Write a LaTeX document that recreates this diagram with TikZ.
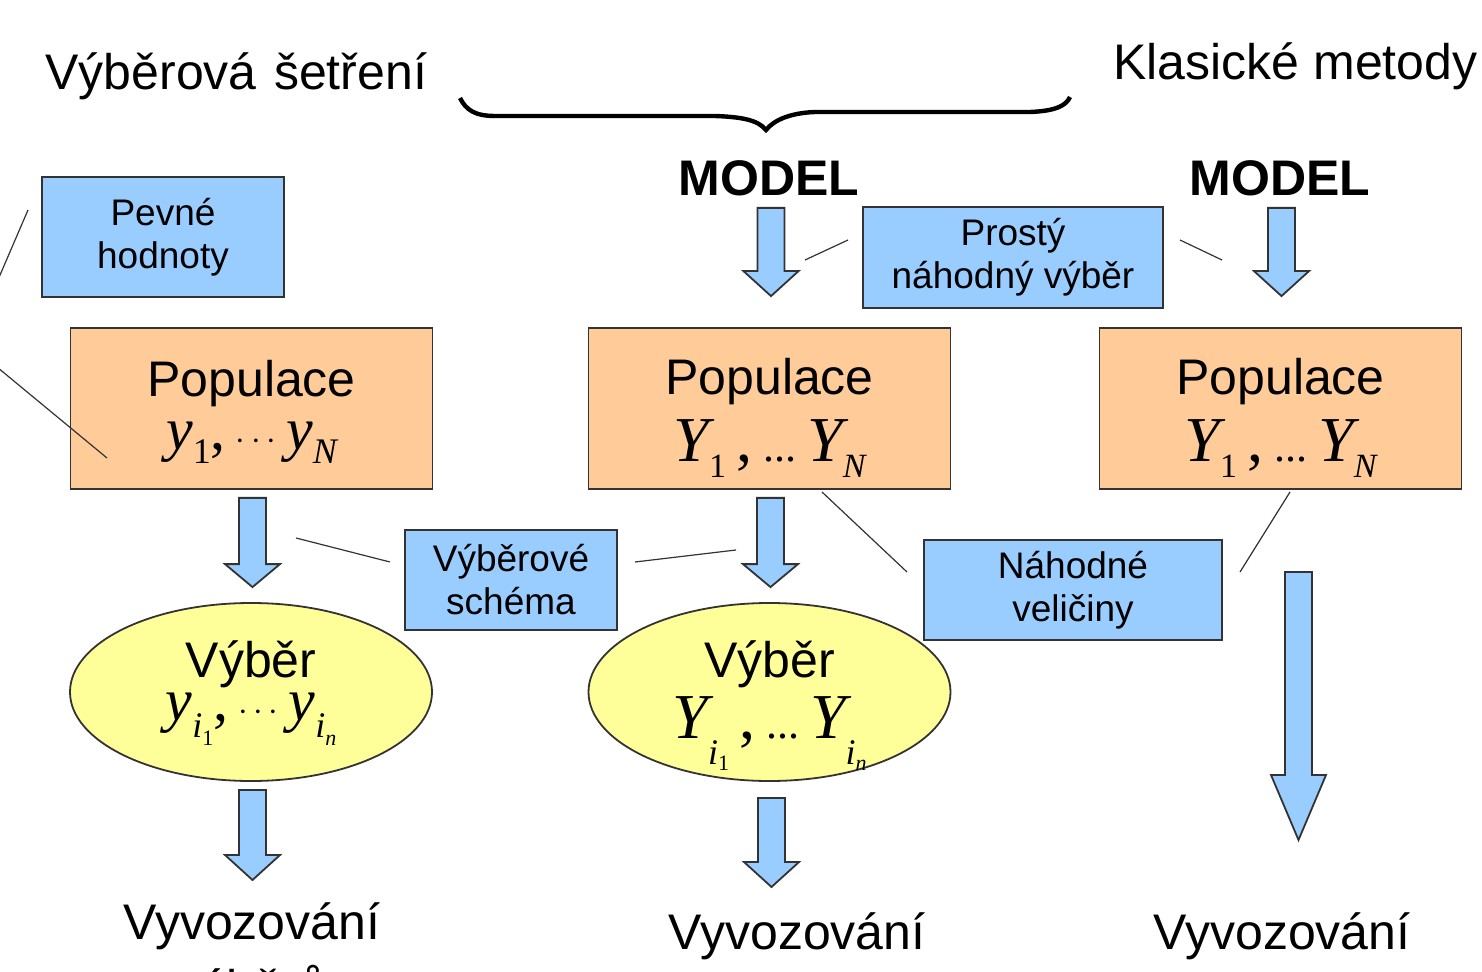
\documentclass[tikz,border=0pt]{standalone}
\usepackage{fontspec}
\setmainfont{Liberation Sans}
\newfontfamily\tnr{Liberation Serif}
\usetikzlibrary{positioning}
\usetikzlibrary{shapes.geometric}
\usetikzlibrary{calc}

\definecolor{boxblue}{HTML}{99CCFF}
\definecolor{boxorange}{HTML}{FFCC99}
\definecolor{boxyellow}{HTML}{FFFF99}
\definecolor{edgegray}{HTML}{333333}

% lowered index: drop, size, content
\newcommand{\lowr}[3]{\raisebox{-#1pt}{\fontsize{#2}{#2}\selectfont #3}}
% block arrow from a start point down to a tip, with head length
\newcommand{\flow}[3]{%
  \draw[arrowbody] let \p1=(#1), \p2=(#2) in
    (\x1-6.75pt,\y1) -- (\x1+6.75pt,\y1) -- (\x1+6.75pt,\y2+#3) -- (\x1+13.75pt,\y2+#3)
    -- (\x1,\y2) -- (\x1-13.75pt,\y2+#3) -- (\x1-6.75pt,\y2+#3) -- cycle;}

\begin{document}
\begin{tikzpicture}
		[x=0.5pt, y=-0.5pt,
		note/.style={rectangle, draw=edgegray, fill=boxblue, line width=0.9pt, inner sep=0pt, align=center, font=\fontsize{18.5}{21.5}\selectfont},
		popbox/.style={rectangle, draw=edgegray, fill=boxorange, line width=0.9pt, minimum width=181pt, minimum height=80.5pt, inner sep=0pt, align=center, font=\fontsize{25}{29}\selectfont},
		sample/.style={ellipse, draw=edgegray, fill=boxyellow, line width=0.9pt, minimum width=181pt, minimum height=89pt, inner sep=0pt, align=center, font=\fontsize{25}{29}\selectfont},
		arrowbody/.style={draw=edgegray, fill=boxblue, line width=0.9pt},
		callout/.style={draw=black!80, line width=0.6pt},
		title/.style={inner sep=0pt, font=\fontsize{25}{29}\selectfont},
		model/.style={inner sep=0pt, font=\bfseries\fontsize{25}{29}\selectfont}]
		\useasboundingbox (0,0) rectangle (1482,972);

		\node[title, anchor=base west] (survey) at (45,90) {Výběrová\hspace{0.35em}šetření};
		\node[title, anchor=base west] (classic) at (1113,80) {Klasické metody};
		\node[model, anchor=base] (modelA) at (769,196) {MODEL};
		\node[model, anchor=base] (modelB) at (1280,196) {MODEL};

		\node[note, minimum width=121pt, minimum height=60pt] (fixed) at (163,237) {Pevné\\hodnoty};
		\node[note, minimum width=150pt, minimum height=50.5pt] (srs) at (1013,257.5) {Prostý\\náhodný výběr};
		\node[note, minimum width=106pt, minimum height=50pt] (design) at (511,580) {Výběrové\\schéma};
		\node[note, minimum width=149pt, minimum height=50pt] (random) at (1073,590) {Náhodné\\veličiny};

		\node[popbox, text height=55pt, text depth=13.5pt] (popA) at (251.5,408.5) {Populace\\[-2.5pt]{\tnr\fontsize{30}{30}\selectfont\itshape y\lowr{7}{18}{\upshape 1}\upshape,\,{\fontsize{16}{16}\selectfont $\cdots$}\,\itshape y\lowr{7}{18}{N}}};
		\node[popbox, text height=62pt, text depth=8.5pt] (popB) at (769.5,408.5) {Populace\\[4.5pt]{\tnr\fontsize{32}{32}\selectfont\itshape Y\lowr{8}{17}{\upshape 1}\upshape\,,\,{\fontsize{22}{22}\selectfont ...}\,\itshape Y\lowr{8}{17}{N}}};
		\node[popbox, text height=62pt, text depth=8.5pt] (popC) at (1280.5,408.5) {Populace\\[4.5pt]{\tnr\fontsize{32}{32}\selectfont\itshape Y\lowr{8}{17}{\upshape 1}\upshape\,,\,{\fontsize{22}{22}\selectfont ...}\,\itshape Y\lowr{8}{17}{N}}};

		\node[sample, text height=40pt, text depth=12pt] (selA) at (251,692) {Výběr\\[-7.5pt]{\tnr\fontsize{30}{30}\selectfont\itshape y\lowr{8.5}{18}{i\lowr{4}{11}{\upshape 1}}\upshape,\,{\fontsize{16}{16}\selectfont $\cdots$}\,\itshape y\lowr{8.5}{18}{i\lowr{4}{11}{n}}}};
		\node[sample, text height=54pt, text depth=8pt] (selB) at (769.5,692) {Výběr\\[1.5pt]{\tnr\fontsize{32}{32}\selectfont\itshape Y\lowr{13}{18}{i\lowr{3}{11}{\upshape 1}}\upshape\,,\,{\fontsize{22}{22}\selectfont ...}\,\itshape Y\lowr{13}{18}{i\lowr{3}{11}{n}}}};

		\node[title, anchor=north, align=center] (inferA) at (252,902) {Vyvozování\\[4pt]výběrů};
		\node[title, anchor=north] (inferB) at (797,912) {Vyvozování};
		\node[title, anchor=north] (inferC) at (1282,912) {Vyvozování};

		% brace over the model part
		\draw[line width=2.2pt] (460,98) .. controls (466,110) and (475,116) .. (495,116) -- (715,116)
			.. controls (742,117) and (758,120) .. (766,130) .. controls (774,120) and (790,113) .. (815,112)
			-- (1030,112) .. controls (1055,111) and (1066,106) .. (1070,97);

		\flow{[yshift=-5.5pt,xshift=1pt]modelA.south}{[yshift=15.5pt,xshift=1pt]popB.north}{12.5pt}
		\flow{[yshift=-5.5pt,xshift=0.75pt]modelB.south}{[yshift=15.5pt]popC.north}{12.5pt}
		\flow{[yshift=-4pt,xshift=0.5pt]popA.south}{[yshift=7.5pt]selA.north}{11.5pt}
		\flow{[yshift=-4pt,xshift=0.5pt]popB.south}{[yshift=7.5pt]selB.north}{11.5pt}
		\flow{[yshift=-41pt,xshift=9pt]popC.south}{[yshift=36pt]inferC.north}{32.5pt}
		\flow{[yshift=-4pt,xshift=0.75pt]selA.south}{[yshift=11pt]inferA.north}{12.5pt}
		\flow{[yshift=-8pt,xshift=1pt]selB.south}{[yshift=12.5pt]inferB.north}{12.5pt}

		\coordinate (fixedEnd) at (28,210);
		\coordinate (offA) at (-12,303);
		\coordinate (offB) at (-20,353);
		\coordinate (popAEnd) at (107,458);
		\coordinate (designL) at (390,562);
		\coordinate (arrowA) at (296,538);
		\coordinate (designR) at (635,562);
		\coordinate (arrowB) at (736,550);
		\coordinate (popBEnd) at (822,492);
		\coordinate (randomL) at (907,572);
		\coordinate (popCEnd) at (1290,492);
		\coordinate (randomR) at (1240,572);
		\coordinate (srsL) at (848,240);
		\coordinate (arrowTop) at (805,260);
		\coordinate (srsR) at (1180,240);
		\coordinate (arrowTopB) at (1222,260);

		\draw[callout] (fixedEnd) -- (offA);
		\draw[callout] (offB) -- (popAEnd);
		\draw[callout] (designL) -- (arrowA);
		\draw[callout] (designR) -- (arrowB);
		\draw[callout] (popBEnd) -- (randomL);
		\draw[callout] (popCEnd) -- (randomR);
		\draw[callout] (srsL) -- (arrowTop);
		\draw[callout] (srsR) -- (arrowTopB);
	\end{tikzpicture}
\end{document}
